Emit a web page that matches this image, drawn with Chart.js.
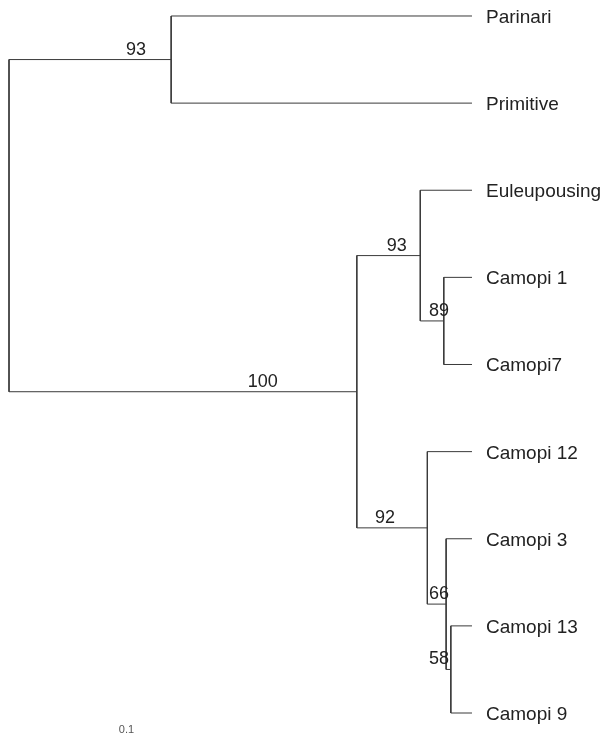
<!DOCTYPE html>
<html>
<head>
<meta charset="utf-8">
<style>
  html, body { margin: 0; padding: 0; background: #fff; }
  #wrap { width: 609px; height: 734px; position: relative; }
</style>
<script src="https://cdn.jsdelivr.net/npm/chart.js@4.4.1/dist/chart.umd.min.js"></script>
</head>
<body>
<div id="wrap"><canvas id="c"></canvas></div>
<script>
// ---- Tree data (branch depths in substitutions/site, leaves in display order) ----
const leaves      = ["Parinari", "Primitive", "Euleupousing", "Camopi 1", "Camopi7", "Camopi 12", "Camopi 3", "Camopi 13", "Camopi 9"];
const leafParent  = ["P", "P", "B", "C", "C", "D", "E", "F", "F"];
const tipDepth    = 0.197;

const clades      = ["root", "P", "A", "B", "C", "D", "E", "F"];
const cladeParent = [null, "root", "root", "A", "B", "A", "D", "E"];
const cladeDepth  = [0, 0.069, 0.148, 0.175, 0.185, 0.178, 0.186, 0.188];
const support     = [null, 93, 100, 93, 89, 92, 66, 58];
const supportAt   = [null, 0.054, 0.108, 0.165, 0.183, 0.160, 0.183, 0.183];

const scaleBarLength = 0.1;
const scaleBarLabel  = "0.1";

// ---- Build layout from the tree ----
const nodeY = {}, nodeDepth = {}, children = {};
clades.forEach((c, i) => { nodeDepth[c] = cladeDepth[i]; children[c] = []; });
leaves.forEach((l, i) => { nodeY["leaf:" + i] = i; nodeDepth["leaf:" + i] = tipDepth; children[leafParent[i]].push("leaf:" + i); });
clades.forEach((c, i) => { if (cladeParent[i]) children[cladeParent[i]].push(c); });
function yOf(n) {
  if (nodeY[n] !== undefined) return nodeY[n];
  const ys = children[n].map(yOf);
  nodeY[n] = (Math.min(...ys) + Math.max(...ys)) / 2;
  return nodeY[n];
}
clades.forEach(yOf);

const LINE = '#3a3a3a';
const datasets = [];
function seg(x1, y1, x2, y2) {
  datasets.push({
    data: [{x: x1, y: y1}, {x: x2, y: y2}],
    showLine: true, borderColor: LINE, borderWidth: 1, pointRadius: 0,
    fill: false
  });
}
// vertical connectors at each clade
clades.forEach(c => {
  const ys = children[c].map(n => nodeY[n]);
  seg(nodeDepth[c], Math.min(...ys), nodeDepth[c], Math.max(...ys));
});
// horizontal branches from parent to each child
clades.forEach(c => {
  children[c].forEach(n => seg(nodeDepth[c], nodeY[n], nodeDepth[n], nodeY[n]));
});

const FONT = '"Liberation Sans", Arial, Helvetica, sans-serif';

const labelPlugin = {
  id: 'treeLabels',
  afterDatasetsDraw(chart) {
    const {ctx, scales: {x, y}} = chart;
    ctx.save();
    ctx.fillStyle = '#222';
    // leaf labels
    ctx.font = '19px ' + FONT;
    ctx.textAlign = 'left';
    ctx.textBaseline = 'alphabetic';
    leaves.forEach((l, i) => {
      ctx.fillText(l, x.getPixelForValue(tipDepth) + 14, y.getPixelForValue(i) + 7);
    });
    // bootstrap support labels
    ctx.font = '18px ' + FONT;
    ctx.textAlign = 'center';
    clades.forEach((c, i) => {
      if (support[i] == null) return;
      ctx.fillText(String(support[i]), x.getPixelForValue(supportAt[i]), y.getPixelForValue(nodeY[c]) - 5);
    });
    // scale bar label
    ctx.fillStyle = '#555';
    ctx.font = '11px ' + FONT;
    ctx.fillText(scaleBarLabel, x.getPixelForValue(scaleBarLength / 2), chart.chartArea.bottom - 1);
    ctx.restore();
  }
};

new Chart(document.getElementById('c'), {
  type: 'scatter',
  data: { datasets },
  options: {
    responsive: true,
    maintainAspectRatio: false,
    animation: false,
    layout: { padding: 0 },
    plugins: { legend: { display: false }, tooltip: { enabled: false } },
    scales: {
      x: { type: 'linear', display: false, min: -0.00383, max: 0.2553 },
      y: { type: 'linear', display: false, reverse: true, min: -0.1836, max: 8.241 }
    },
    elements: { line: { tension: 0 } }
  },
  plugins: [labelPlugin]
});
</script>
</body>
</html>
